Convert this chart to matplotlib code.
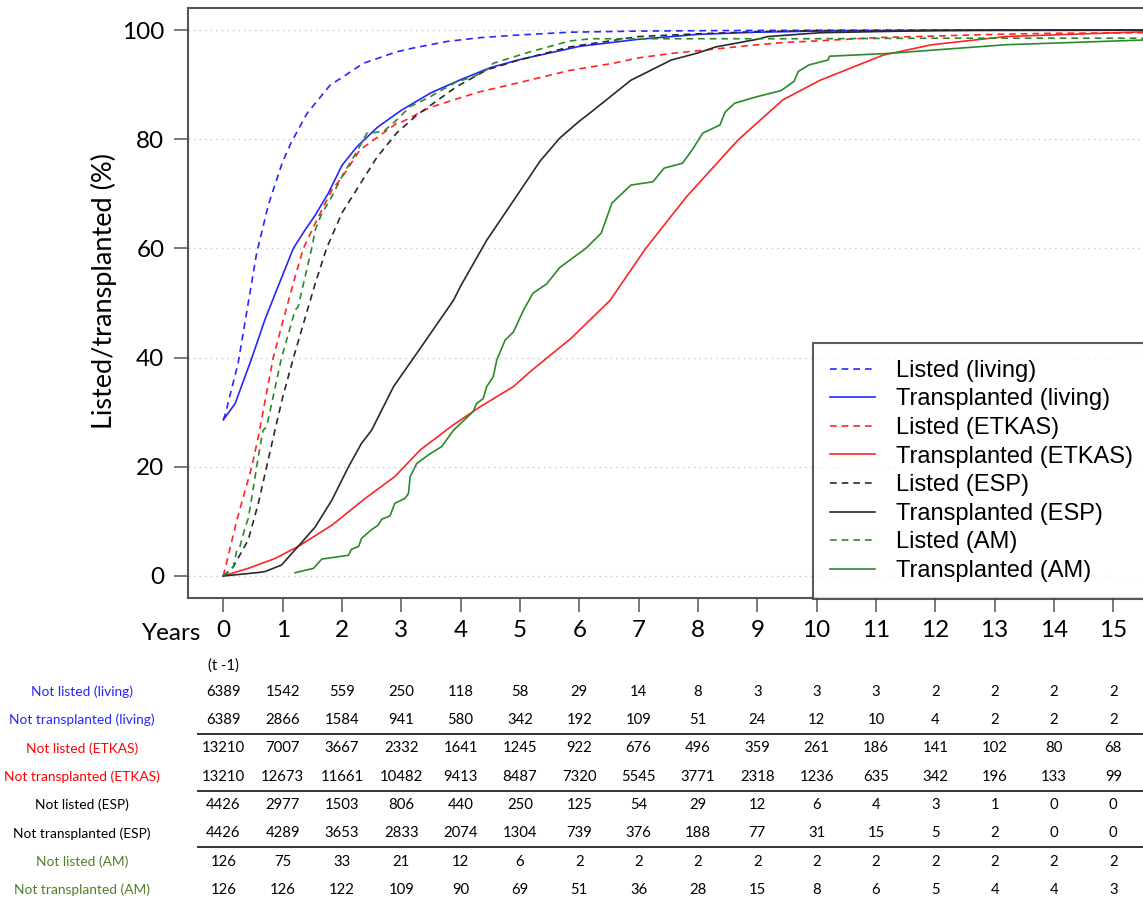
import matplotlib
matplotlib.use("Agg")
import matplotlib.pyplot as plt
import matplotlib.transforms as mtransforms
from matplotlib.lines import Line2D

# ---- curve data (years, %) ----
listed_living_x = [0, 0.03, 0.25, 0.42, 0.56, 0.76, 1.0, 1.15, 1.41, 1.8, 2.0, 2.36, 2.92,
                   3.2, 3.77, 4.33, 5.0, 5.84, 7.0, 8.5, 10.0, 12.0, 15.6]
listed_living_y = [28.6, 29.5, 39.0, 50.0, 59.0, 68.0, 75.9, 79.5, 84.7, 89.9, 91.3, 93.9, 96.0,
                   96.7, 97.9, 98.6, 99.1, 99.6, 99.8, 99.9, 99.95, 100, 100]

trans_living_x = [0, 0.2, 0.48, 0.7, 0.9, 1.0, 1.18, 1.38, 1.55, 1.77, 2.0, 2.25, 2.6, 3.0, 3.5,
                  4.0, 4.5, 5.0, 5.84, 6.0, 7.0, 8.0, 9.0, 10.0, 12.0, 15.6]
trans_living_y = [28.6, 31.6, 39.9, 46.9, 52.4, 55.1, 60.0, 63.4, 66.1, 70.1, 75.2, 78.6, 82.2, 85.3, 88.5,
                  90.9, 93.1, 94.6, 96.6, 97.0, 98.3, 99.2, 99.6, 99.8, 99.9, 99.95]

listed_etkas_x = [0, 0.23, 0.48, 0.59, 0.84, 1.0, 1.21, 1.35, 1.55, 1.83, 2.0, 2.3, 2.92, 3.0,
                  3.48, 4.0, 4.33, 5.0, 5.84, 6.57, 7.0, 7.55, 8.0, 9.0, 9.43, 10.0, 11.0, 12.0,
                  13.0, 14.0, 15.6]
listed_etkas_y = [0, 10.3, 20.0, 25.5, 39.9, 46.5, 54.8, 60.0, 64.6, 70.7, 73.0, 78.0, 82.9, 83.1,
                  85.8, 87.6, 88.7, 90.4, 92.6, 93.9, 94.9, 95.7, 96.2, 97.3, 97.7, 98.0, 98.6, 98.9,
                  99.2, 99.4, 99.5]

trans_etkas_x = [0, 0.42, 0.87, 1.26, 1.83, 2.39, 2.89, 3.32, 3.88, 4.33, 4.89, 5.17, 5.62, 5.86,
                 6.01, 6.52, 7.12, 7.81, 8.68, 9.43, 10.06, 11.12, 11.94, 13.19, 15.6]
trans_etkas_y = [0, 1.4, 3.2, 5.4, 9.3, 14.2, 18.2, 23.1, 27.7, 31.0, 34.7, 37.4, 41.4, 43.5,
                 45.1, 50.5, 60.0, 69.5, 79.9, 87.2, 90.8, 95.4, 97.3, 98.8, 99.7]

listed_esp_x = [0, 0.17, 0.42, 0.59, 0.87, 1.0, 1.18, 1.55, 1.74, 2.0, 2.59, 2.92, 3.26, 3.93,
                4.44, 4.95, 5.84, 7.0, 8.0, 9.0, 10.0, 12.0, 15.6]
listed_esp_y = [0, 1.7, 6.6, 13.3, 26.7, 32.7, 39.9, 53.6, 60.0, 66.5, 76.7, 81.1, 84.4, 89.6,
                92.7, 94.4, 96.9, 98.8, 99.3, 99.7, 99.9, 99.95, 100]

trans_esp_x = [0, 0.56, 0.7, 0.98, 1.26, 1.55, 1.83, 2.11, 2.33, 2.5, 2.87, 3.32, 3.65, 3.88,
               4.0, 4.44, 5.0, 5.34, 5.67, 6.0, 6.18, 6.87, 7.0, 7.55, 8.0, 8.3, 9.0, 9.18,
               10.06, 11.0, 12.0, 13.0, 15.6]
trans_esp_y = [0, 0.6, 0.8, 2.0, 5.4, 9.0, 13.9, 20.0, 24.3, 26.7, 34.7, 41.7, 46.9, 50.5,
               53.1, 61.5, 70.5, 76.0, 80.2, 83.3, 84.8, 90.8, 91.5, 94.5, 95.8, 96.9, 98.3, 98.8,
               99.5, 99.7, 99.9, 100, 100]

listed_am_x = [0, 0.07, 0.17, 0.23, 0.28, 0.37, 0.42, 0.51, 0.59, 0.67, 0.73, 0.98, 1.21, 1.26,
               1.49, 1.55, 1.66, 1.8, 2.02, 2.25, 2.42, 2.7, 2.92, 3.15, 3.48, 3.55, 3.93, 4.21,
               4.44, 4.55, 5.17, 5.84, 6.2, 8.0, 10.0, 12.0, 15.6]
listed_am_y = [0, 0.6, 1.7, 4.8, 5.4, 9.0, 10.5, 16.4, 21.9, 26.7, 27.3, 39.9, 48.7, 49.3,
               60.0, 63.4, 66.4, 68.9, 73.6, 77.7, 81.1, 81.4, 83.5, 86.0, 87.7, 88.2, 90.5, 91.4,
               92.7, 93.9, 96.0, 98.0, 98.4, 98.4, 98.4, 98.5, 98.5]

trans_am_x = [1.21, 1.52, 1.66, 2.11, 2.16, 2.28, 2.33, 2.5, 2.61, 2.67, 2.81, 2.89, 3.06, 3.12,
              3.15, 3.26, 3.46, 3.68, 3.74, 3.88, 4.21, 4.27, 4.38, 4.44, 4.55, 4.61, 4.75, 4.89,
              5.06, 5.22, 5.45, 5.67, 6.11, 6.37, 6.55, 6.87, 7.24, 7.43, 7.74, 7.9, 8.08, 8.37,
              8.46, 8.62, 9.0, 9.4, 9.62, 9.69, 9.87, 10.19, 10.22, 11.19, 13.19, 15.6]
trans_am_y = [0.6, 1.4, 3.1, 3.8, 4.9, 5.4, 6.9, 8.5, 9.3, 10.4, 11.0, 13.3, 14.2, 15.1,
              18.2, 20.6, 22.2, 23.7, 24.6, 26.7, 30.1, 31.6, 32.5, 34.7, 36.5, 39.6, 43.2, 44.7,
              48.7, 51.8, 53.5, 56.5, 60.0, 62.8, 68.3, 71.6, 72.2, 74.7, 75.6, 78.0, 81.1, 82.6,
              85.0, 86.6, 87.8, 88.9, 90.6, 92.4, 93.6, 94.5, 95.2, 95.7, 97.3, 98.2]

# ---- number-at-risk table ----
years = list(range(16))
row_labels = ["Not listed (living)", "Not transplanted (living)",
              "Not listed (ETKAS)", "Not transplanted (ETKAS)",
              "Not listed (ESP)", "Not transplanted (ESP)",
              "Not listed (AM)", "Not transplanted (AM)"]
not_listed_living = [6389, 1542, 559, 250, 118, 58, 29, 14, 8, 3, 3, 3, 2, 2, 2, 2]
not_trans_living = [6389, 2866, 1584, 941, 580, 342, 192, 109, 51, 24, 12, 10, 4, 2, 2, 2]
not_listed_etkas = [13210, 7007, 3667, 2332, 1641, 1245, 922, 676, 496, 359, 261, 186, 141, 102, 80, 68]
not_trans_etkas = [13210, 12673, 11661, 10482, 9413, 8487, 7320, 5545, 3771, 2318, 1236, 635, 342, 196, 133, 99]
not_listed_esp = [4426, 2977, 1503, 806, 440, 250, 125, 54, 29, 12, 6, 4, 3, 1, 0, 0]
not_trans_esp = [4426, 4289, 3653, 2833, 2074, 1304, 739, 376, 188, 77, 31, 15, 5, 2, 0, 0]
not_listed_am = [126, 75, 33, 21, 12, 6, 2, 2, 2, 2, 2, 2, 2, 2, 2, 2]
not_trans_am = [126, 126, 122, 109, 90, 69, 51, 36, 28, 15, 8, 6, 5, 4, 4, 3]

BLUE = "#2626ff"
RED = "#ff2424"
BLACK = "#2a2a2a"
GREEN = "#2a8a2a"
LABEL_GREEN = "#4e7f2c"
DASH = (0, (4, 3))

FIG_W, FIG_H = 1143, 900
fig = plt.figure(figsize=(FIG_W / 100, FIG_H / 100), dpi=100)
ax = fig.add_axes([188 / FIG_W, 1 - 598 / FIG_H, (1172.6 - 188) / FIG_W, 590 / FIG_H])

series = [
    (listed_living_x, listed_living_y, BLUE, DASH, "Listed (living)"),
    (trans_living_x, trans_living_y, BLUE, "-", "Transplanted (living)"),
    (listed_etkas_x, listed_etkas_y, RED, DASH, "Listed (ETKAS)"),
    (trans_etkas_x, trans_etkas_y, RED, "-", "Transplanted (ETKAS)"),
    (listed_esp_x, listed_esp_y, BLACK, DASH, "Listed (ESP)"),
    (trans_esp_x, trans_esp_y, BLACK, "-", "Transplanted (ESP)"),
    (listed_am_x, listed_am_y, GREEN, DASH, "Listed (AM)"),
    (trans_am_x, trans_am_y, GREEN, "-", "Transplanted (AM)"),
]
for xs, ys, col, ls, lab in series:
    ax.plot(xs, ys, color=col, linestyle=ls, linewidth=1.2, label=lab)

ax.set_xlim(-0.595, 16.0)
ax.set_ylim(-4.03, 104.03)

# dotted horizontal grid
for yv in range(0, 101, 20):
    ax.axhline(yv, color="#c4c4c4", linewidth=1.0, linestyle=(0, (1, 3)), zorder=0)

for side in ["left", "bottom", "top", "right"]:
    ax.spines[side].set_color("#555555")
    ax.spines[side].set_linewidth(1.5)

ax.set_yticks(range(0, 101, 20))
ax.set_xticks(years)
ax.tick_params(axis="both", direction="out", length=10, width=1.1, color="#555555")
ax.tick_params(axis="y", pad=7)
ax.tick_params(axis="x", pad=6)
for t in ax.get_xticklabels() + ax.get_yticklabels():
    t.set_fontfamily("Lato")
    t.set_fontsize(17.5)

ax.set_ylabel("Listed/transplanted (%)", fontfamily="Lato", fontsize=19.5)
ax.yaxis.set_label_coords(-0.072, 0.52)

leg = ax.legend(loc="upper left", bbox_to_anchor=((813 - 188) / 984.6, (598 - 343) / 590),
                borderaxespad=0, frameon=True, fancybox=False,
                prop={"family": "Liberation Sans", "size": 17},
                handlelength=1.9, handletextpad=0.9, labelspacing=0.28, borderpad=0.71)
leg.get_frame().set_edgecolor("#333333")
leg.get_frame().set_linewidth(1.5)

# "Years" label left of the x tick labels
fig.text(201 / FIG_W, 1 - 633 / FIG_H, "Years", ha="right", va="center",
         fontfamily="Lato", fontsize=17.5)

# table below the axis
trans = mtransforms.blended_transform_factory(ax.transData, fig.transFigure)
ax.text(0, 1 - 666 / FIG_H, "(t -1)", transform=trans, ha="center", va="center",
        fontfamily="Lato", fontsize=10.7, clip_on=False)

table_rows = [not_listed_living, not_trans_living, not_listed_etkas, not_trans_etkas,
              not_listed_esp, not_trans_esp, not_listed_am, not_trans_am]
label_colors = [BLUE, BLUE, "red", "red", "black", "black", LABEL_GREEN, LABEL_GREEN]
row_py = [691.5, 720, 748.3, 776.7, 805, 833.3, 861.7, 889.5]

for vals, lab, col, py in zip(table_rows, row_labels, label_colors, row_py):
    fy = 1 - py / FIG_H
    fig.text(82 / FIG_W, fy, lab, ha="center", va="center", color=col,
             fontfamily="Lato", fontsize=9.9)
    for yr, v in zip(years, vals):
        ax.text(yr, fy, str(v), transform=trans, ha="center", va="center",
                fontfamily="Lato", fontsize=10.7, clip_on=False)

# separators between group pairs
for py in [734, 790.5, 847]:
    fig.add_artist(Line2D([198 / FIG_W, 1.0], [1 - py / FIG_H, 1 - py / FIG_H],
                          transform=fig.transFigure, color="#333333", linewidth=1.4))

fig.savefig("out.png", dpi=100)
